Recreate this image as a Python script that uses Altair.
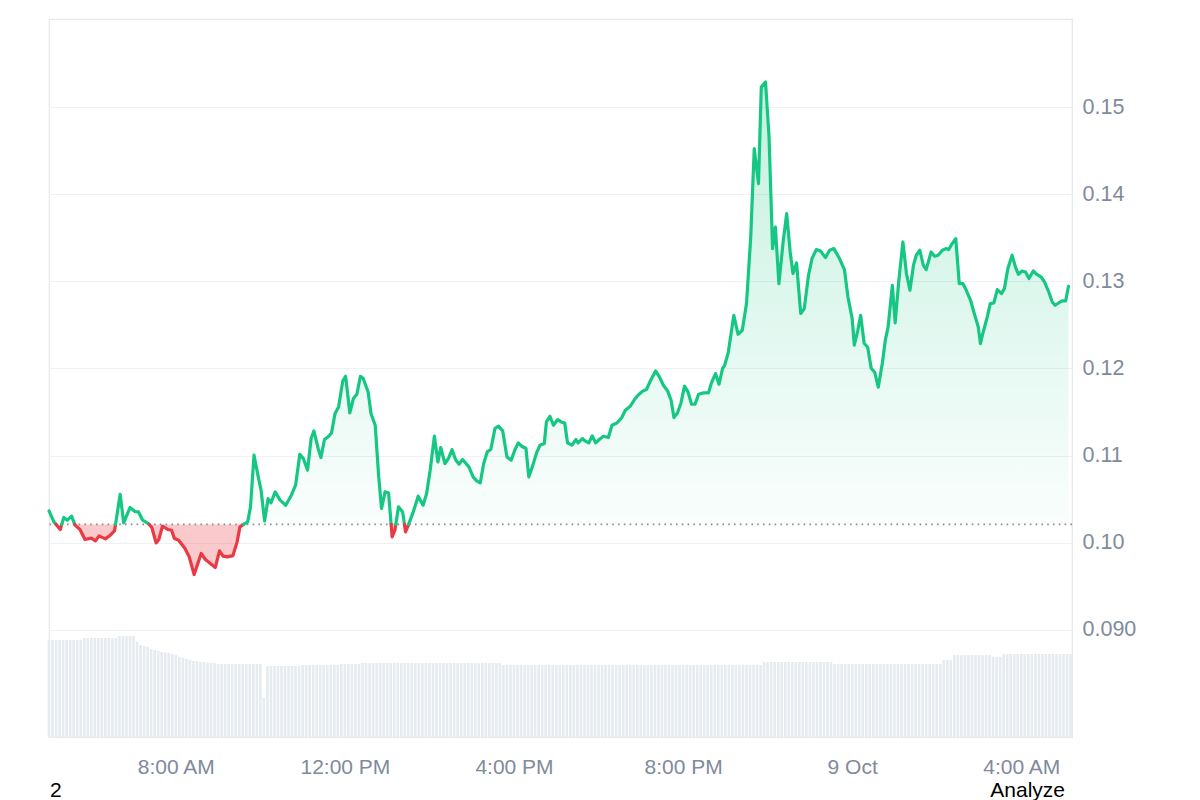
import altair as alt
import pandas as pd

# ---------------- data ----------------
times = [
    "2024-10-08T05:00", "2024-10-08T05:07", "2024-10-08T05:16", "2024-10-08T05:21", "2024-10-08T05:26",
    "2024-10-08T05:32", "2024-10-08T05:37", "2024-10-08T05:44", "2024-10-08T05:51", "2024-10-08T06:00",
    "2024-10-08T06:06", "2024-10-08T06:11", "2024-10-08T06:20", "2024-10-08T06:27", "2024-10-08T06:33",
    "2024-10-08T06:41", "2024-10-08T06:46", "2024-10-08T06:55", "2024-10-08T07:02", "2024-10-08T07:07",
    "2024-10-08T07:13", "2024-10-08T07:21", "2024-10-08T07:26", "2024-10-08T07:32", "2024-10-08T07:36",
    "2024-10-08T07:41", "2024-10-08T07:49", "2024-10-08T07:54", "2024-10-08T07:58", "2024-10-08T08:04",
    "2024-10-08T08:13", "2024-10-08T08:19", "2024-10-08T08:26", "2024-10-08T08:36", "2024-10-08T08:42",
    "2024-10-08T08:49", "2024-10-08T08:56", "2024-10-08T09:02", "2024-10-08T09:07", "2024-10-08T09:13",
    "2024-10-08T09:21", "2024-10-08T09:27", "2024-10-08T09:31", "2024-10-08T09:38", "2024-10-08T09:42",
    "2024-10-08T09:46", "2024-10-08T09:51", "2024-10-08T09:57", "2024-10-08T10:01", "2024-10-08T10:06",
    "2024-10-08T10:11", "2024-10-08T10:15", "2024-10-08T10:21", "2024-10-08T10:28", "2024-10-08T10:36",
    "2024-10-08T10:44", "2024-10-08T10:50", "2024-10-08T10:56", "2024-10-08T11:01", "2024-10-08T11:07",
    "2024-10-08T11:12", "2024-10-08T11:16", "2024-10-08T11:22", "2024-10-08T11:26", "2024-10-08T11:31",
    "2024-10-08T11:37", "2024-10-08T11:41", "2024-10-08T11:46", "2024-10-08T11:51", "2024-10-08T11:57",
    "2024-10-08T12:01", "2024-10-08T12:07", "2024-10-08T12:12", "2024-10-08T12:17", "2024-10-08T12:22",
    "2024-10-08T12:26", "2024-10-08T12:33", "2024-10-08T12:37", "2024-10-08T12:43", "2024-10-08T12:48",
    "2024-10-08T12:52", "2024-10-08T12:57", "2024-10-08T13:02", "2024-10-08T13:07", "2024-10-08T13:11",
    "2024-10-08T13:16", "2024-10-08T13:22", "2024-10-08T13:26", "2024-10-08T13:30", "2024-10-08T13:37",
    "2024-10-08T13:44", "2024-10-08T13:51", "2024-10-08T13:56", "2024-10-08T14:01", "2024-10-08T14:07",
    "2024-10-08T14:12", "2024-10-08T14:16", "2024-10-08T14:22", "2024-10-08T14:27", "2024-10-08T14:32",
    "2024-10-08T14:37", "2024-10-08T14:42", "2024-10-08T14:47", "2024-10-08T14:56", "2024-10-08T15:02",
    "2024-10-08T15:07", "2024-10-08T15:12", "2024-10-08T15:17", "2024-10-08T15:22", "2024-10-08T15:27",
    "2024-10-08T15:33", "2024-10-08T15:38", "2024-10-08T15:44", "2024-10-08T15:50", "2024-10-08T15:56",
    "2024-10-08T16:01", "2024-10-08T16:06", "2024-10-08T16:11", "2024-10-08T16:17", "2024-10-08T16:21",
    "2024-10-08T16:26", "2024-10-08T16:32", "2024-10-08T16:37", "2024-10-08T16:43", "2024-10-08T16:46",
    "2024-10-08T16:51", "2024-10-08T16:56", "2024-10-08T17:02", "2024-10-08T17:07", "2024-10-08T17:12",
    "2024-10-08T17:16", "2024-10-08T17:22", "2024-10-08T17:28", "2024-10-08T17:31", "2024-10-08T17:37",
    "2024-10-08T17:41", "2024-10-08T17:46", "2024-10-08T17:51", "2024-10-08T17:56", "2024-10-08T18:01",
    "2024-10-08T18:07", "2024-10-08T18:14", "2024-10-08T18:19", "2024-10-08T18:26", "2024-10-08T18:33",
    "2024-10-08T18:38", "2024-10-08T18:45", "2024-10-08T18:51", "2024-10-08T18:56", "2024-10-08T19:03",
    "2024-10-08T19:08", "2024-10-08T19:14", "2024-10-08T19:21", "2024-10-08T19:27", "2024-10-08T19:32",
    "2024-10-08T19:38", "2024-10-08T19:43", "2024-10-08T19:47", "2024-10-08T19:52", "2024-10-08T19:57",
    "2024-10-08T20:02", "2024-10-08T20:07", "2024-10-08T20:12", "2024-10-08T20:17", "2024-10-08T20:22",
    "2024-10-08T20:29", "2024-10-08T20:36", "2024-10-08T20:40", "2024-10-08T20:46", "2024-10-08T20:51",
    "2024-10-08T20:56", "2024-10-08T20:59", "2024-10-08T21:04", "2024-10-08T21:12", "2024-10-08T21:18",
    "2024-10-08T21:24", "2024-10-08T21:30", "2024-10-08T21:36", "2024-10-08T21:41", "2024-10-08T21:47",
    "2024-10-08T21:51", "2024-10-08T21:57", "2024-10-08T22:02", "2024-10-08T22:07", "2024-10-08T22:11",
    "2024-10-08T22:16", "2024-10-08T22:22", "2024-10-08T22:27", "2024-10-08T22:32", "2024-10-08T22:36",
    "2024-10-08T22:41", "2024-10-08T22:47", "2024-10-08T22:52", "2024-10-08T22:58", "2024-10-08T23:03",
    "2024-10-08T23:09", "2024-10-08T23:15", "2024-10-08T23:22", "2024-10-08T23:28", "2024-10-08T23:34",
    "2024-10-08T23:42", "2024-10-08T23:49", "2024-10-08T23:54", "2024-10-09T00:00", "2024-10-09T00:03",
    "2024-10-09T00:08", "2024-10-09T00:12", "2024-10-09T00:17", "2024-10-09T00:22", "2024-10-09T00:27",
    "2024-10-09T00:32", "2024-10-09T00:37", "2024-10-09T00:43", "2024-10-09T00:47", "2024-10-09T00:51",
    "2024-10-09T00:57", "2024-10-09T01:01", "2024-10-09T01:06", "2024-10-09T01:12", "2024-10-09T01:17",
    "2024-10-09T01:22", "2024-10-09T01:27", "2024-10-09T01:31", "2024-10-09T01:36", "2024-10-09T01:41",
    "2024-10-09T01:45", "2024-10-09T01:52", "2024-10-09T01:57", "2024-10-09T02:02", "2024-10-09T02:08",
    "2024-10-09T02:13", "2024-10-09T02:17", "2024-10-09T02:22", "2024-10-09T02:27", "2024-10-09T02:32",
    "2024-10-09T02:37", "2024-10-09T02:42", "2024-10-09T02:48", "2024-10-09T02:54", "2024-10-09T02:59",
    "2024-10-09T03:02", "2024-10-09T03:06", "2024-10-09T03:12", "2024-10-09T03:16", "2024-10-09T03:21",
    "2024-10-09T03:26", "2024-10-09T03:32", "2024-10-09T03:36", "2024-10-09T03:41", "2024-10-09T03:47",
    "2024-10-09T03:52", "2024-10-09T03:56", "2024-10-09T04:01", "2024-10-09T04:06", "2024-10-09T04:11",
    "2024-10-09T04:17", "2024-10-09T04:22", "2024-10-09T04:28", "2024-10-09T04:33", "2024-10-09T04:39",
    "2024-10-09T04:44", "2024-10-09T04:48", "2024-10-09T04:53", "2024-10-09T04:58", "2024-10-09T05:03",
    "2024-10-09T05:07",
]

prices = [
    0.10365, 0.10239, 0.10151, 0.10289, 0.10258, 0.10304, 0.10201, 0.10151, 0.10037, 0.10052,
    0.10021, 0.10078, 0.10044, 0.10086, 0.10135, 0.10556, 0.10227, 0.10404, 0.10358, 0.10353,
    0.10258, 0.10220, 0.10174, 0.09998, 0.10037, 0.10189, 0.10151, 0.10143, 0.10048, 0.10029,
    0.09933, 0.09837, 0.09635, 0.09876, 0.09807, 0.09761, 0.09715, 0.09906, 0.09845, 0.09837,
    0.09851, 0.10009, 0.10181, 0.10220, 0.10239, 0.10411, 0.11004, 0.10755, 0.10602, 0.10250,
    0.10507, 0.10457, 0.10583, 0.10488, 0.10430, 0.10545, 0.10660, 0.11015, 0.10966, 0.10832,
    0.11195, 0.11283, 0.11081, 0.10977, 0.11184, 0.11222, 0.11260, 0.11482, 0.11558, 0.11856,
    0.11910, 0.11489, 0.11654, 0.11704, 0.11910, 0.11884, 0.11730, 0.11482, 0.11348, 0.10755,
    0.10392, 0.10583, 0.10571, 0.10067, 0.10143, 0.10411, 0.10353, 0.10124, 0.10201, 0.10353,
    0.10534, 0.10430, 0.10564, 0.10832, 0.11222, 0.10927, 0.11092, 0.10909, 0.10966, 0.11069,
    0.10955, 0.10901, 0.10955, 0.10870, 0.10755, 0.10709, 0.10686, 0.10909, 0.11042, 0.11069,
    0.11310, 0.11337, 0.11283, 0.10984, 0.10947, 0.11061, 0.11145, 0.11107, 0.11081, 0.10755,
    0.10870, 0.11030, 0.11119, 0.11138, 0.11386, 0.11451, 0.11348, 0.11413, 0.11386, 0.11374,
    0.11145, 0.11119, 0.11184, 0.11145, 0.11195, 0.11168, 0.11145, 0.11225, 0.11145, 0.11184,
    0.11222, 0.11207, 0.11348, 0.11374, 0.11436, 0.11520, 0.11566, 0.11643, 0.11692, 0.11742,
    0.11758, 0.11864, 0.11971, 0.11895, 0.11807, 0.11742, 0.11635, 0.11436, 0.11489, 0.11604,
    0.11796, 0.11730, 0.11589, 0.11589, 0.11704, 0.11719, 0.11719, 0.11827, 0.11941, 0.11818,
    0.11999, 0.12036, 0.12178, 0.12610, 0.12392, 0.12438, 0.12744, 0.13508, 0.14523, 0.14121,
    0.15229, 0.15287, 0.14656, 0.13375, 0.13623, 0.12974, 0.13451, 0.13777, 0.13336, 0.13089,
    0.13210, 0.12630, 0.12687, 0.13069, 0.13261, 0.13364, 0.13348, 0.13272, 0.13356, 0.13375,
    0.13261, 0.13134, 0.12820, 0.12572, 0.12266, 0.12438, 0.12610, 0.12289, 0.12243, 0.12002,
    0.11956, 0.11784, 0.12071, 0.12323, 0.12476, 0.12954, 0.12522, 0.12992, 0.13451, 0.13089,
    0.12897, 0.13184, 0.13299, 0.13356, 0.13184, 0.13134, 0.13336, 0.13287, 0.13299, 0.13356,
    0.13375, 0.13364, 0.13433, 0.13490, 0.12974, 0.12974, 0.12897, 0.12782, 0.12610, 0.12476,
    0.12285, 0.12418, 0.12599, 0.12744, 0.12751, 0.12905, 0.12859, 0.12916, 0.13146, 0.13299,
    0.13157, 0.13080, 0.13118, 0.13107, 0.13031, 0.13118, 0.13080, 0.13050, 0.12992, 0.12877,
    0.12763, 0.12725, 0.12751, 0.12774, 0.12774, 0.12943,
]

reference_price = 0.1021  # dotted line (opening price)

# volume, one bar every 5 minutes from 05:00 (relative units)
volume_start = "2024-10-08T05:00"
volumes = [
    97, 97, 97, 97, 97, 97, 97, 97, 97, 97,
    99, 99, 99, 99, 99, 99, 99, 99, 99, 99,
    101, 101, 101, 101, 101, 95, 92, 91, 90, 88,
    87, 86, 85, 84.5, 84, 83, 82, 80, 79, 78,
    77, 76, 76, 75, 75, 74.5, 74, 74,
    73, 73, 73, 73, 73, 73, 73, 73, 73, 73, 73, 73, 73, 39,
    71, 71, 71, 71, 71, 71, 71, 71, 71, 71,
    72, 72, 72, 72, 72, 72, 72, 72, 72, 72, 72,
    73, 73, 73, 73, 73, 73,
    74, 74, 74, 74, 74, 74, 74, 74, 74, 74,
    74, 74, 74, 74, 74, 74, 74, 74, 74, 74,
    74, 74, 74, 74, 74, 74, 74, 74, 74, 74,
    74, 74, 74, 74, 74, 74, 74, 74, 74, 74,
    72, 72, 72, 72, 72, 72, 72, 72, 72, 72,
    72, 72, 72, 72, 72, 72, 72, 72, 72, 72,
    72, 72, 72, 72, 72, 72, 72, 72, 72, 72,
    72, 72, 72, 72, 72, 72, 72, 72, 72, 72,
    72, 72, 72, 72, 72, 72, 72, 72, 72, 72,
    72, 72, 72, 72, 72, 72, 72, 72, 72, 72,
    72, 72, 72, 72, 72, 72, 72, 72, 72, 72,
    72, 72, 72, 72,
    75, 75, 75, 75, 75, 75, 75, 75, 75, 75,
    75, 75, 75, 75, 75, 75, 75, 75, 75, 75,
    73, 73, 73, 73, 73, 73, 73, 73, 73, 73,
    73, 73, 73, 73, 73, 73, 73, 73, 73, 73,
    73, 73, 73, 73, 73, 73, 73, 73, 73, 73, 73,
    77, 77, 77,
    82, 82, 82, 82, 82, 82, 82, 82, 82, 82, 82,
    80, 80, 80,
    83, 83, 83, 83, 83, 83, 83, 83, 83, 83,
    83, 83, 83, 83, 83, 83, 83, 83, 83, 83,
]

y_ticks = [0.09, 0.10, 0.11, 0.12, 0.13, 0.14, 0.15]
x_ticks = [(8, 8), (8, 12), (8, 16), (8, 20), (9, 0), (9, 4)]  # (day, hour)

GREEN = "#16c784"
RED = "#ea3943"
LABEL = "#808a9d"
FONT = "Liberation Sans"

# ---------------- tables ----------------
ts = pd.to_datetime(times)

def iso(t):
    return t.strftime("%Y-%m-%dT%H:%M:%S.") + f"{t.microsecond // 1000:03d}Z"

# split line into runs above / below the reference price
pts = list(zip(ts, prices))
segs = []
cur_sign = "up" if prices[0] >= reference_price else "down"
cur = [pts[0]]
for (t0, v0), (t1, v1) in zip(pts[:-1], pts[1:]):
    s1 = "up" if v1 >= reference_price else "down"
    if s1 != cur_sign:
        f = (reference_price - v0) / (v1 - v0)
        tc = t0 + (t1 - t0) * f
        cur.append((tc, reference_price))
        segs.append((cur_sign, cur))
        cur = [(tc, reference_price)]
        cur_sign = s1
    cur.append((t1, v1))
segs.append((cur_sign, cur))

line_rows, area_rows = [], []
for k, (sg, plist) in enumerate(segs):
    for t, v in plist:
        line_rows.append({"t": iso(t), "v": v, "sign": sg, "seg": k})
        area_rows.append({"t": iso(t), "up": max(v, reference_price),
                          "down": min(v, reference_price), "base": reference_price})
line_df = pd.DataFrame(line_rows)
area_df = pd.DataFrame(area_rows)

vt = pd.date_range(volume_start, periods=len(volumes), freq="5min")
vol_df = pd.DataFrame({"t": [iso(t) for t in vt], "vol": volumes})
base_df = pd.DataFrame({"base": [reference_price]})

# ---------------- scales & axes ----------------
x_scale = alt.Scale(type="utc", padding=0,
                    domain=[alt.DateTime(year=2024, month=10, date=8, hours=5, minutes=0, utc=True),
                            alt.DateTime(year=2024, month=10, date=9, hours=5, minutes=12, utc=True)])
x_axis = alt.Axis(
    values=[alt.DateTime(year=2024, month=10, date=d, hours=h, utc=True) for d, h in x_ticks],
    labelExpr="utchours(datum.value) == 0 ? utcFormat(datum.value, '%-d %b') : utcFormat(datum.value, '%-I:%M %p')",
    grid=False, ticks=False, domain=False, labelFontSize=21, labelColor=LABEL,
    labelFont=FONT, labelPadding=19, title=None, labelFlush=False,
)

def X():
    return alt.X("t:T", scale=x_scale, axis=x_axis, title=None)

y_scale = alt.Scale(domain=[0.0777, 0.1601], nice=False, zero=False)
y_axis = alt.Axis(
    orient="right", values=y_ticks,
    labelExpr="datum.value < 0.0995 ? format(datum.value, '.3f') : format(datum.value, '.2f')",
    grid=True, gridColor="#eff1f4", gridWidth=1.2, ticks=False, domain=False,
    labelFontSize=21.5, labelColor=LABEL, labelFont=FONT, labelPadding=10, title=None,
)

def Y(field):
    return alt.Y(field, scale=y_scale, axis=y_axis, title=None)

green_grad = alt.Gradient(
    gradient="linear", x1=0, x2=0, y1=0, y2=1,
    stops=[alt.GradientStop(color="rgba(22,199,132,0.26)", offset=0),
           alt.GradientStop(color="rgba(22,199,132,0.02)", offset=1)],
)

# ---------------- layers ----------------
vol = alt.Chart(vol_df).mark_bar(width=2.6, color="#e6ebf0").encode(
    x=X(),
    y=alt.Y("vol:Q", scale=alt.Scale(domain=[0, 718], nice=False), axis=None),
)

green_area = alt.Chart(area_df).mark_area(color=green_grad, interpolate="linear").encode(
    x=X(), y=Y("up:Q"), y2="base:Q")
red_area = alt.Chart(area_df).mark_area(color=RED, opacity=0.27, interpolate="linear").encode(
    x=X(), y=Y("down:Q"), y2="base:Q")
rule = alt.Chart(base_df).mark_rule(strokeDash=[1.6, 4.2], color="#8d8d8d", strokeWidth=1.6).encode(
    y=Y("base:Q"))
line = alt.Chart(line_df).mark_line(strokeWidth=3.2, strokeJoin="round", strokeCap="round").encode(
    x=X(), y=Y("v:Q"),
    color=alt.Color("sign:N", scale=alt.Scale(domain=["up", "down"], range=[GREEN, RED]), legend=None),
    detail="seg:N",
)

price = alt.layer(green_area, red_area, rule, line)

txt_df = pd.DataFrame({"a": [0]})
t_left = alt.Chart(txt_df).mark_text(text="2", align="left", baseline="middle", fontSize=21,
                                     font=FONT, color="#000000").encode(
    x=alt.value(1), y=alt.value(772))
t_right = alt.Chart(txt_df).mark_text(text="Analyze", align="right", baseline="middle", fontSize=21,
                                      font=FONT, color="#000000").encode(
    x=alt.value(1016), y=alt.value(772))

chart = (
    alt.layer(vol, price, t_left, t_right)
    .resolve_scale(y="independent")
    .properties(width=1023, height=718, background="white",
                padding={"left": 47, "top": 19, "right": 0, "bottom": 0})
    .configure_view(stroke="#e6e8eb", strokeWidth=1.2)
)

chart.save("out.html", embed_options={"renderer": "svg", "actions": False})
